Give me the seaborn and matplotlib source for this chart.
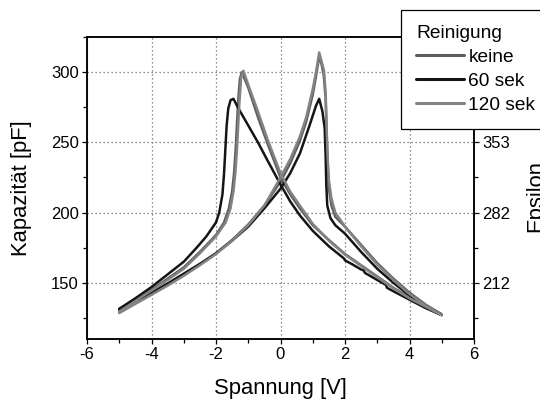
import matplotlib
matplotlib.use("Agg")
import matplotlib.pyplot as plt
from matplotlib.lines import Line2D
from matplotlib.ticker import MultipleLocator, FixedLocator
import pandas as pd
import seaborn as sns

# C-V hysteresis loops: sweep up (-5 V -> +5 V) and back down (+5 V -> -5 V)
series = ["keine", "60 sek", "120 sek"]

v_keine_up = [-5.0, -4.5, -4.0, -3.5, -3.0, -2.5, -2.0, -1.5, -1.0, -0.5, 0.0, 0.3, 0.6, 0.8, 1.0, 1.1,
              1.2, 1.27, 1.34, 1.40, 1.43, 1.46, 1.5, 1.58, 1.7, 2.0, 2.5, 3.0, 3.5, 4.0, 4.5, 5.0]
c_keine_up = [129, 135.5, 142, 148.5, 155.5, 163, 171, 180.5, 191.5, 205, 222, 235, 251, 265, 284, 297,
              311, 306, 298, 281, 257, 236, 217, 205, 197, 190, 177, 164, 153, 143, 134.5, 127.5]
v_keine_dn = [5.0, 4.5, 4.0, 3.5, 3.0, 2.5, 2.0, 1.5, 1.0, 0.6, 0.3, 0.0, -0.4, -0.7, -1.0, -1.2,
              -1.26, -1.31, -1.35, -1.39, -1.44, -1.5, -1.6, -1.75, -2.0, -2.5, -3.0, -3.5, -4.0, -4.5, -5.0]
c_keine_dn = [127.5, 133.5, 139.5, 146.5, 154.5, 162.5, 170.5, 180.5, 191, 203, 213, 225, 249, 268, 289, 300,
              295, 280, 263, 245, 228, 215, 203, 193, 184, 172, 161, 153, 145, 137.5, 130]

v_60_up = [-5.0, -4.5, -4.0, -3.5, -3.0, -2.5, -2.0, -1.5, -1.0, -0.5, 0.0, 0.3, 0.6, 0.9, 1.1, 1.2,
           1.3, 1.37, 1.40, 1.42, 1.45, 1.55, 1.7, 2.0, 2.5, 3.0, 3.5, 4.0, 4.5, 5.0]
c_60_up = [131, 137, 143, 149.5, 156.5, 163.5, 171, 180, 190, 203, 217, 228, 242, 262, 276, 281,
           272, 260, 240, 220, 205, 196, 191, 185, 172, 160, 150, 141, 133.5, 127]
v_60_dn = [5.0, 4.5, 4.0, 3.5, 3.3, 3.27, 3.0, 2.7, 2.62, 2.58, 2.5, 2.2, 2.0, 1.96, 1.5, 1.0, 0.6,
           0.3, 0.0, -0.4, -0.7, -1.0, -1.3, -1.46, -1.55, -1.62, -1.67, -1.71, -1.75, -1.8, -1.9,
           -2.0, -2.3, -2.6, -3.0, -3.5, -4.0, -4.5, -5.0]
c_60_dn = [127, 132, 138, 144, 146.5, 148.5, 152, 156, 157, 158.8, 159.5, 163.5, 166, 167.5, 176, 187, 198,
           208, 220, 237, 250, 262, 274, 281, 280, 274, 262, 245, 228, 213, 200,
           193, 183, 175, 165, 156, 147, 139, 131.5]

v_120_up = [-5.0, -4.5, -4.0, -3.5, -3.0, -2.5, -2.0, -1.5, -1.0, -0.5, 0.0, 0.3, 0.6, 0.8, 1.0, 1.1,
            1.2, 1.27, 1.35, 1.40, 1.43, 1.46, 1.5, 1.58, 1.7, 2.0, 2.5, 3.0, 3.5, 4.0, 4.5, 5.0]
c_120_up = [128.5, 135, 141.5, 148, 155, 162.5, 170.5, 180, 191, 205, 225, 238, 254, 268, 288, 300,
            314, 308, 301, 285, 260, 240, 223, 210, 200, 190, 176, 163, 152, 142, 134, 127]
v_120_dn = [5.0, 4.5, 4.0, 3.5, 3.0, 2.5, 2.0, 1.5, 1.0, 0.6, 0.3, 0.0, -0.4, -0.7, -1.0, -1.15,
            -1.22, -1.27, -1.31, -1.35, -1.40, -1.46, -1.55, -1.7, -2.0, -2.5, -3.0, -3.5, -4.0, -4.5, -5.0]
c_120_dn = [127, 133, 139, 146, 154, 162, 170, 180, 192, 205, 215, 228, 252, 272, 291, 301,
            296, 280, 263, 245, 228, 215, 203, 193, 183, 171, 160, 152, 144.5, 137, 129.5]

loops = {
    "keine": (v_keine_up + v_keine_dn, c_keine_up + c_keine_dn),
    "60 sek": (v_60_up + v_60_dn, c_60_up + c_60_dn),
    "120 sek": (v_120_up + v_120_dn, c_120_up + c_120_dn),
}

# secondary scale: permittivity values shown at the capacitance gridlines
eps_ticks = [150, 200, 250]
eps_labels = ["212", "282", "353"]

palette = {"keine": "#5e5e5e", "60 sek": "#151515", "120 sek": "#838383"}

frames = []
for name in series:
    v, c = loops[name]
    frames.append(pd.DataFrame({"Spannung": v, "Kapazität": c, "Reinigung": name,
                                "step": range(len(v))}))
df = pd.concat(frames, ignore_index=True)

sns.set_theme(style="ticks")
plt.rcParams["font.family"] = ["Liberation Sans", "DejaVu Sans"]
plt.rcParams.update({
    "axes.linewidth": 1.1,
    "axes.unicode_minus": False,
    "text.color": "black",
    "axes.labelcolor": "black",
    "xtick.color": "black",
    "ytick.color": "black",
    "axes.edgecolor": "black",
})

W, H = 540, 401
fig = plt.figure(figsize=(W / 100, H / 100), dpi=100)
L, R, T, B = 87, 474, 37, 339
ax = fig.add_axes([L / W, 1 - B / H, (R - L) / W, (B - T) / H])

for name in series:
    sns.lineplot(data=df[df["Reinigung"] == name], x="Spannung", y="Kapazität",
                 color=palette[name], sort=False, estimator=None, lw=1.8,
                 ax=ax, legend=False)

ax.set_xlim(-6, 6)
ax.set_ylim(110, 325)
ax.xaxis.set_major_locator(MultipleLocator(2))
ax.xaxis.set_minor_locator(MultipleLocator(1))
ax.yaxis.set_major_locator(MultipleLocator(50))
ax.yaxis.set_minor_locator(MultipleLocator(25))
ax.grid(True, which="major", linestyle=(0, (1, 2.2)), color="#6a6a6a", lw=0.9)
ax.set_axisbelow(True)
ax.tick_params(which="major", direction="out", length=3.4, width=0.9, labelsize=12,
               pad=2.5, top=False, right=False)
ax.tick_params(which="minor", direction="out", length=2.6, width=0.9, top=False, right=False,
               left=True, bottom=True)

ax.set_xlabel("Spannung [V]", fontsize=15.8)
ax.set_ylabel("Kapazität [pF]", fontsize=15.8, va="center")
ax.xaxis.set_label_coords(0.5, -0.128)
ax.xaxis.label.set_va("top")
ax.yaxis.set_label_coords((22 - L) / (R - L), (B - 188) / (B - T))

ax2 = ax.twinx()
ax2.set_ylim(ax.get_ylim())
ax2.yaxis.set_major_locator(FixedLocator(eps_ticks))
ax2.set_yticklabels(eps_labels)
ax2.yaxis.set_minor_locator(MultipleLocator(25))
ax2.tick_params(which="major", direction="out", length=3.4, width=0.9, labelsize=12, pad=2.5)
ax2.tick_params(which="minor", direction="out", length=2.6, width=0.9)
ax2.set_ylabel("Epsilon", fontsize=15.8, va="center", rotation=90)
ax2.yaxis.set_label_coords((536 - L) / (R - L), (B - 196) / (B - T))

handles = [Line2D([], [], color=palette[n], lw=2.2) for n in series]
leg = fig.legend(handles, series, title="Reinigung", loc="upper left",
                 bbox_to_anchor=(401 / W, 1 - 10 / H), borderaxespad=0,
                 frameon=True, fancybox=False, edgecolor="black", framealpha=1,
                 fontsize=13.8, title_fontsize=13.8, handlelength=2.5, handletextpad=0.22,
                 labelspacing=0.33, borderpad=0.8, alignment="left")
leg.get_frame().set_linewidth(0.9)
leg.set_zorder(10)

fig.savefig("out.png", dpi=100)
